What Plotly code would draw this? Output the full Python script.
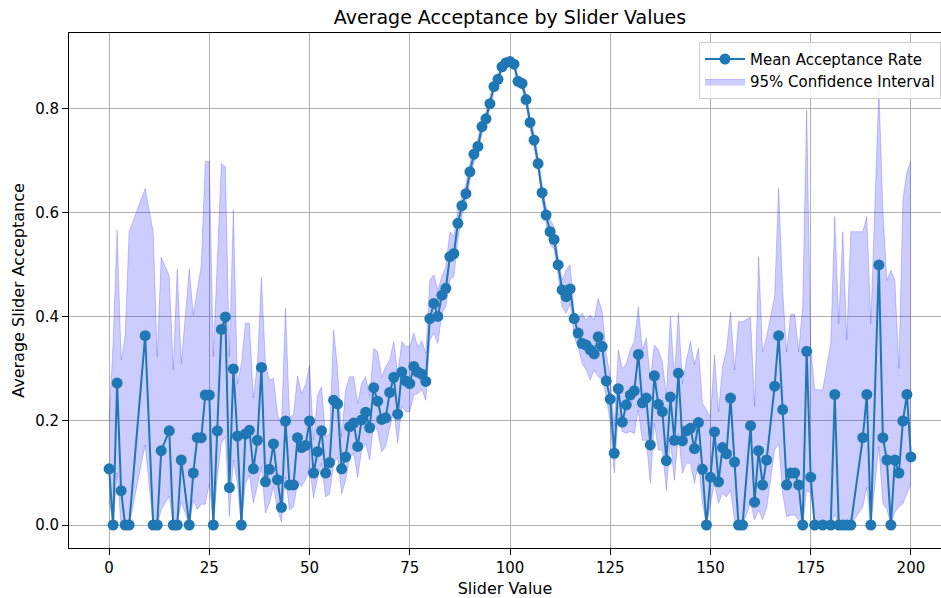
import plotly.graph_objects as go

# Slider values that were observed
slider_values = [
    0, 1, 2, 3, 4, 5, 9, 11, 12, 13, 15, 16, 17, 18, 20, 21, 22, 23, 24, 25,
    26, 27, 28, 29, 30, 31, 32, 33, 34, 35, 36, 37, 38, 39, 40, 41, 42, 43, 44, 45,
    46, 47, 48, 49, 50, 51, 52, 53, 54, 55, 56, 57, 58, 59, 60, 61, 62, 63, 64, 65,
    66, 67, 68, 69, 70, 71, 72, 73, 74, 75, 76, 77, 78, 79, 80, 81, 82, 83, 84, 85,
    86, 87, 88, 89, 90, 91, 92, 93, 94, 95, 96, 97, 98, 99, 100, 101, 102, 103, 104, 105,
    106, 107, 108, 109, 110, 111, 112, 113, 114, 115, 116, 117, 118, 119, 120, 121, 122, 123, 124, 125,
    126, 127, 128, 129, 130, 131, 132, 133, 134, 135, 136, 137, 138, 139, 140, 141, 142, 143, 144, 145,
    146, 147, 148, 149, 150, 151, 152, 153, 154, 155, 156, 157, 158, 160, 161, 162, 163, 164, 166, 167,
    168, 169, 170, 171, 172, 173, 174, 175, 176, 178, 180, 181, 182, 183, 184, 185, 188, 189, 190, 192,
    193, 194, 195, 196, 197, 198, 199, 200,
]

# Mean acceptance rate per slider value
mean_acceptance = [
    0.108, 0.0, 0.273, 0.066, 0.0, 0.0, 0.364, 0.0, 0.0, 0.143, 0.181, 0.0, 0.0, 0.125, 0.0, 0.1, 0.168, 0.168, 0.25, 0.25,
    0.0, 0.181, 0.376, 0.4, 0.072, 0.3, 0.171, 0.0, 0.175, 0.182, 0.108, 0.163, 0.303, 0.083, 0.107, 0.156, 0.087, 0.034, 0.2, 0.077,
    0.077, 0.168, 0.149, 0.153, 0.2, 0.1, 0.141, 0.181, 0.1, 0.12, 0.24, 0.233, 0.108, 0.131, 0.189, 0.196, 0.151, 0.202, 0.217, 0.187,
    0.264, 0.238, 0.203, 0.206, 0.255, 0.284, 0.213, 0.294, 0.277, 0.272, 0.305, 0.294, 0.29, 0.276, 0.397, 0.426, 0.401, 0.442, 0.455, 0.516,
    0.522, 0.58, 0.614, 0.637, 0.679, 0.713, 0.728, 0.766, 0.781, 0.81, 0.843, 0.857, 0.881, 0.889, 0.891, 0.886, 0.853, 0.849, 0.818, 0.774,
    0.74, 0.695, 0.639, 0.596, 0.564, 0.549, 0.5, 0.452, 0.439, 0.454, 0.397, 0.369, 0.349, 0.346, 0.337, 0.329, 0.362, 0.343, 0.277, 0.242,
    0.138, 0.262, 0.198, 0.231, 0.25, 0.258, 0.328, 0.235, 0.244, 0.154, 0.287, 0.232, 0.218, 0.124, 0.246, 0.163, 0.292, 0.162, 0.181, 0.186,
    0.147, 0.197, 0.107, 0.0, 0.092, 0.179, 0.083, 0.149, 0.137, 0.244, 0.121, 0.0, 0.0, 0.191, 0.044, 0.143, 0.077, 0.125, 0.267, 0.364,
    0.222, 0.077, 0.1, 0.1, 0.077, 0.0, 0.334, 0.092, 0.0, 0.0, 0.0, 0.251, 0.0, 0.0, 0.0, 0.0, 0.168, 0.251, 0.0, 0.5,
    0.168, 0.125, 0.0, 0.125, 0.1, 0.2, 0.251, 0.131,
]

# Lower bound of the 95% confidence interval
ci_lower = [
    0.05, 0.0, 0.1, 0.0, 0.0, 0.0, 0.154, 0.0, 0.0, 0.029, 0.056, 0.0, 0.0, 0.045, 0.0, 0.048, 0.03, 0.04, 0.04, 0.08,
    0.0, 0.093, 0.157, 0.17, 0.016, 0.125, 0.08, 0.0, 0.08, 0.096, 0.042, 0.08, 0.112, 0.023, 0.042, 0.074, 0.029, 0.006, 0.093, 0.029,
    0.035, 0.08, 0.074, 0.087, 0.112, 0.052, 0.09, 0.119, 0.054, 0.06, 0.119, 0.13, 0.06, 0.086, 0.128, 0.138, 0.092, 0.144, 0.157, 0.125,
    0.196, 0.18, 0.141, 0.151, 0.189, 0.221, 0.157, 0.228, 0.218, 0.218, 0.25, 0.253, 0.26, 0.24, 0.355, 0.369, 0.349, 0.407, 0.42, 0.471,
    0.478, 0.548, 0.595, 0.618, 0.662, 0.697, 0.713, 0.752, 0.768, 0.798, 0.833, 0.848, 0.873, 0.882, 0.884, 0.878, 0.844, 0.84, 0.808, 0.762,
    0.727, 0.681, 0.623, 0.58, 0.54, 0.53, 0.48, 0.42, 0.407, 0.426, 0.362, 0.342, 0.31, 0.298, 0.279, 0.298, 0.285, 0.28, 0.247, 0.196,
    0.1, 0.215, 0.18, 0.176, 0.18, 0.176, 0.221, 0.163, 0.163, 0.08, 0.196, 0.144, 0.144, 0.067, 0.163, 0.086, 0.176, 0.1, 0.119, 0.119,
    0.08, 0.119, 0.042, 0.0, 0.042, 0.08, 0.042, 0.061, 0.054, 0.067, 0.01, 0.0, 0.0, 0.042, 0.01, 0.029, 0.01, 0.032, 0.144, 0.157,
    0.061, 0.016, 0.019, 0.019, 0.01, 0.0, 0.067, 0.061, 0.0, 0.0, 0.0, 0.02, 0.0, 0.0, 0.0, 0.0, 0.035, 0.073, 0.0, 0.151,
    0.041, 0.031, 0.0, 0.025, 0.035, 0.041, 0.06, 0.08,
]

# Upper bound of the 95% confidence interval
ci_upper = [
    0.2, 0.35, 0.567, 0.317, 0.362, 0.564, 0.647, 0.564, 0.324, 0.515, 0.479, 0.298, 0.492, 0.31, 0.492, 0.404, 0.452, 0.5, 0.699, 0.699,
    0.324, 0.5, 0.695, 0.689, 0.324, 0.606, 0.272, 0.31, 0.388, 0.388, 0.244, 0.31, 0.476, 0.31, 0.279, 0.282, 0.215, 0.19, 0.417, 0.208,
    0.211, 0.287, 0.253, 0.27, 0.307, 0.163, 0.25, 0.266, 0.17, 0.176, 0.375, 0.3, 0.17, 0.26, 0.285, 0.285, 0.234, 0.272, 0.285, 0.247,
    0.34, 0.333, 0.284, 0.305, 0.317, 0.353, 0.29, 0.353, 0.343, 0.343, 0.369, 0.342, 0.355, 0.33, 0.471, 0.481, 0.452, 0.478, 0.497, 0.564,
    0.555, 0.605, 0.632, 0.655, 0.697, 0.729, 0.743, 0.78, 0.794, 0.822, 0.853, 0.866, 0.889, 0.896, 0.898, 0.894, 0.862, 0.858, 0.828, 0.786,
    0.753, 0.709, 0.655, 0.612, 0.587, 0.573, 0.516, 0.471, 0.49, 0.5, 0.407, 0.4, 0.407, 0.394, 0.404, 0.394, 0.436, 0.41, 0.33, 0.285,
    0.19, 0.337, 0.301, 0.31, 0.337, 0.353, 0.42, 0.337, 0.359, 0.279, 0.346, 0.337, 0.314, 0.247, 0.401, 0.285, 0.407, 0.272, 0.317, 0.353,
    0.308, 0.34, 0.234, 0.221, 0.208, 0.327, 0.218, 0.304, 0.337, 0.41, 0.298, 0.391, 0.391, 0.4, 0.228, 0.516, 0.333, 0.362, 0.439, 0.647,
    0.452, 0.333, 0.405, 0.405, 0.333, 0.42, 0.798, 0.343, 0.26, 0.26, 0.35, 0.593, 0.387, 0.564, 0.356, 0.564, 0.564, 0.593, 0.387, 0.84,
    0.606, 0.47, 0.49, 0.47, 0.301, 0.625, 0.68, 0.7,
]

x_ticks = [0, 25, 50, 75, 100, 125, 150, 175, 200]
y_ticks = [0.0, 0.2, 0.4, 0.6, 0.8]

BLUE = "#1f77b4"
CI_FILL = "rgba(0,0,255,0.2)"
FONT = "DejaVu Sans"

fig = go.Figure()

# Confidence band: lower edge first, then upper edge filled down to it
fig.add_trace(go.Scatter(
    x=slider_values, y=ci_lower, mode="lines",
    line=dict(color=CI_FILL, width=1),
    showlegend=False, hoverinfo="skip",
))
fig.add_trace(go.Scatter(
    x=slider_values, y=ci_upper, mode="lines",
    line=dict(color=CI_FILL, width=1),
    fill="tonexty", fillcolor=CI_FILL,
    name="95% Confidence Interval", legendrank=2,
))

# Mean acceptance line with markers, drawn on top of the band
fig.add_trace(go.Scatter(
    x=slider_values, y=mean_acceptance, mode="lines+markers",
    line=dict(color=BLUE, width=2),
    marker=dict(color=BLUE, size=11),
    name="Mean Acceptance Rate", legendrank=1,
))

axis_common = dict(
    showgrid=True, gridcolor="#b0b0b0", gridwidth=1,
    showline=True, linecolor="black", linewidth=1,
    ticks="outside", ticklen=6, tickwidth=1, tickcolor="black",
    tickfont=dict(family=FONT, size=15, color="black"),
    zeroline=False,
)

fig.update_xaxes(
    range=[-10, 207.5], tickmode="array", tickvals=x_ticks,
    ticktext=[str(v) for v in x_ticks], mirror=True,
    title=dict(text="Slider Value", font=dict(family=FONT, size=16, color="black"), standoff=8),
    **axis_common,
)
fig.update_yaxes(
    range=[-0.0442, 0.946], tickmode="array", tickvals=y_ticks,
    ticktext=[f"{v:.1f}" for v in y_ticks],
    title=dict(text="Average Slider Acceptance", font=dict(family=FONT, size=16, color="black"), standoff=6),
    **axis_common,
)

fig.update_layout(
    width=941, height=598,
    margin=dict(l=69, r=0, t=33, b=50),
    plot_bgcolor="white", paper_bgcolor="white",
    font=dict(family=FONT, size=15, color="black"),
    title=dict(
        text="Average Acceptance by Slider Values",
        font=dict(family=FONT, size=19, color="black"),
        xref="paper", x=0.5057, xanchor="center",
        yref="container", y=1 - 17 / 598, yanchor="middle",
    ),
    legend=dict(
        x=1.0, xanchor="right", y=0.983, yanchor="top",
        traceorder="normal", itemwidth=40,
        bgcolor="rgba(255,255,255,0.8)", bordercolor="#cccccc", borderwidth=1,
        font=dict(family=FONT, size=15, color="black"),
        tracegroupgap=0,
    ),
)

fig.write_html("out.html")
